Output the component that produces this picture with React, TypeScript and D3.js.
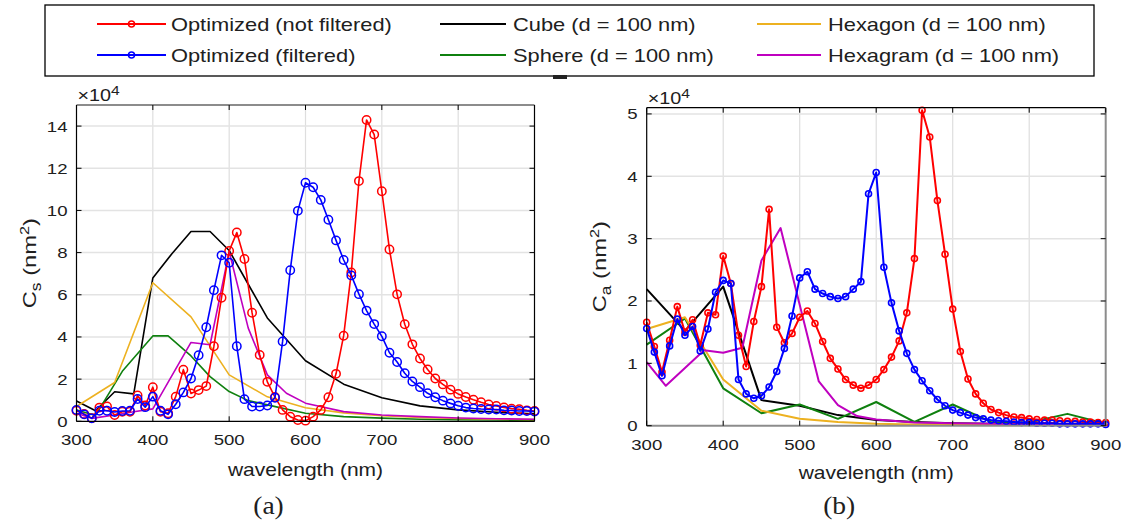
import React from "react";
import * as d3 from "d3";

// Wavelength grid (nm) of the optimized structures
const WAVELENGTH_FINE = d3.range(300, 901, 10);

// ---------- Scattering cross section Cs (x 1e4 nm^2) ----------
const CS_NOT_FILTERED = [
  0.5, 0.35, 0.15, 0.65, 0.7, 0.3, 0.45, 0.45, 1.22, 0.75,
  1.62, 0.45, 0.38, 1.17, 2.45, 1.32, 1.48, 1.67, 3.56, 5.86,
  8.08, 8.95, 7.7, 5.15, 3.15, 1.87, 1.15, 0.54, 0.22, 0.06,
  0.03, 0.22, 0.54, 1.14, 2.25, 4.06, 7.06, 11.39, 14.29, 13.6,
  10.91, 8.15, 6.02, 4.6, 3.65, 2.98, 2.46, 2.03, 1.75, 1.5,
  1.3, 1.15, 1.02, 0.9, 0.8, 0.73, 0.66, 0.6, 0.57, 0.52, 0.49,
];
const CS_FILTERED = [
  0.54, 0.33, 0.14, 0.5, 0.5, 0.44, 0.49, 0.5, 1.06, 0.67,
  1.17, 0.5, 0.33, 0.81, 1.37, 2.03, 3.13, 4.46, 6.22, 7.87,
  7.52, 3.56, 1.05, 0.7, 0.7, 0.75, 1.12, 3.79, 7.16, 9.98,
  11.31, 11.1, 10.5, 9.56, 8.58, 7.65, 6.92, 6.03, 5.25, 4.61,
  4.03, 3.25, 2.81, 2.28, 1.89, 1.62, 1.33, 1.14, 0.98, 0.85,
  0.74, 0.65, 0.61, 0.58, 0.56, 0.56, 0.52, 0.51, 0.49, 0.49, 0.46,
];
const CS_CUBE_WL = [300, 325, 350, 375, 400, 425, 450, 475, 500, 525, 550, 600, 650, 700, 750, 800, 850, 900];
const CS_CUBE = [0.96, 0.5, 1.4, 1.3, 6.8, 7.95, 9.0, 9.0, 8.1, 6.5, 4.9, 2.87, 1.76, 1.12, 0.73, 0.54, 0.43, 0.35];
const CS_SPHERE_WL = [300, 325, 360, 400, 420, 450, 475, 500, 525, 550, 600, 650, 700, 750, 800, 850, 900];
const CS_SPHERE = [0.54, 0.28, 2.37, 4.05, 4.05, 3.1, 2.12, 1.41, 0.98, 0.78, 0.38, 0.22, 0.15, 0.1, 0.08, 0.06, 0.05];
const CS_HEXAGON_WL = [300, 350, 400, 450, 500, 550, 600, 650, 700, 750, 800, 850, 900];
const CS_HEXAGON = [0.7, 1.84, 6.57, 4.95, 2.2, 1.16, 0.64, 0.4, 0.26, 0.18, 0.13, 0.1, 0.08];
const CS_HEXAGRAM_WL = [300, 320, 350, 375, 400, 450, 475, 500, 525, 550, 575, 600, 650, 700, 750, 800, 850, 900];
const CS_HEXAGRAM = [0.38, 0.14, 0.3, 0.45, 0.59, 3.74, 3.63, 8.05, 4.42, 2.2, 1.33, 0.86, 0.46, 0.3, 0.22, 0.16, 0.12, 0.1];

// ---------- Absorption cross section Ca (x 1e4 nm^2) ----------
const CA_NOT_FILTERED = [
  1.66, 1.27, 0.86, 1.37, 1.91, 1.5, 1.7, 1.29, 1.81, 1.78,
  2.72, 2.28, 1.45, 0.95, 1.67, 2.23, 3.47, 1.58, 1.33, 1.48,
  1.74, 1.84, 1.64, 1.35, 1.08, 0.91, 0.74, 0.65, 0.6, 0.65,
  0.74, 0.9, 1.1, 1.36, 1.81, 2.68, 5.06, 4.63, 3.61, 2.75,
  1.87, 1.19, 0.75, 0.51, 0.36, 0.26, 0.21, 0.17, 0.14, 0.13,
  0.11, 0.1, 0.09, 0.09, 0.08, 0.07, 0.07, 0.06, 0.06, 0.05, 0.05,
];
const CA_FILTERED = [
  1.56, 1.18, 0.8, 1.28, 1.71, 1.45, 1.59, 1.2, 1.55, 2.14,
  2.33, 2.28, 0.74, 0.51, 0.44, 0.48, 0.62, 0.87, 1.24, 1.76,
  2.37, 2.47, 2.19, 2.12, 2.07, 2.04, 2.07, 2.19, 2.31, 3.72,
  4.06, 2.54, 1.97, 1.52, 1.16, 0.9, 0.72, 0.56, 0.42, 0.32,
  0.25, 0.21, 0.17, 0.13, 0.11, 0.09, 0.08, 0.07, 0.06, 0.05,
  0.05, 0.04, 0.04, 0.04, 0.03, 0.03, 0.03, 0.03, 0.03, 0.03, 0.02,
];
const CA_SHAPE_WL = [300, 350, 400, 450, 500, 550, 600, 650, 700, 750, 800, 850, 900];
const CA_CUBE = [2.19, 1.52, 2.23, 0.41, 0.32, 0.17, 0.09, 0.06, 0.04, 0.03, 0.03, 0.02, 0.02];
const CA_SPHERE = [1.3, 1.72, 0.6, 0.2, 0.34, 0.11, 0.38, 0.06, 0.34, 0.06, 0.05, 0.19, 0.03];
const CA_HEXAGON = [1.55, 1.74, 0.74, 0.24, 0.11, 0.06, 0.03, 0.02, 0.02, 0.01, 0.01, 0.01, 0.01];
const CA_HEXAGRAM_WL = [300, 325, 375, 400, 425, 450, 475, 525, 550, 575, 600, 650, 700, 750, 800, 850, 900];
const CA_HEXAGRAM = [1.02, 0.64, 1.21, 1.17, 1.25, 2.65, 3.17, 0.71, 0.33, 0.155, 0.1, 0.05, 0.04, 0.03, 0.02, 0.02, 0.02];

const X_TICKS = [300, 400, 500, 600, 700, 800, 900];
const CS_TICKS = [0, 2, 4, 6, 8, 10, 12, 14];
const CA_TICKS = [0, 1, 2, 3, 4, 5];

const COLORS = {
  notFiltered: "#ff0000",
  filtered: "#0000ff",
  cube: "#000000",
  sphere: "#0f800f",
  hexagon: "#edb120",
  hexagram: "#bf00bf",
};

const SANS = "'Liberation Sans', Arial, Helvetica, sans-serif";
const SERIF = "'Liberation Serif', 'Times New Roman', serif";
const STRETCH = 1.2;

type Pt = [number, number];
const zipPts = (xs: number[], ys: number[]): Pt[] => xs.map((x, i) => [x, ys[i]]);

function Txt(props: {
  x: number; y: number; size: number; anchor?: string; rotate?: number;
  sx?: number; family?: string; children: React.ReactNode;
}) {
  const { x, y, size, anchor = "start", rotate = 0, sx = STRETCH, family = SANS, children } = props;
  return (
    <text
      transform={`translate(${x},${y}) rotate(${rotate}) scale(${sx},1)`}
      fontSize={size}
      fontFamily={family}
      textAnchor={anchor}
      fill="#202020"
    >
      {children}
    </text>
  );
}

interface Series {
  pts: Pt[];
  color: string;
  markers?: boolean;
}

function Panel(props: {
  left: number; right: number; top: number; bottom: number; yMax: number;
  yTicks: number[]; series: Series[]; lineW: number; markerR: number; markerW: number;
  sub: string; xLabelY: number; yLabelX: number; tickLabelDy: number;
  grayTop?: boolean; grayRightBottom?: boolean; caption: string; captionY: number;
}) {
  const p = props;
  const x = d3.scaleLinear().domain([300, 900]).range([p.left, p.right]);
  const y = d3.scaleLinear().domain([0, p.yMax]).range([p.bottom, p.top]);
  const line = d3.line<Pt>().x((d) => x(d[0])).y((d) => y(d[1]));
  const tickLen = 5;
  const cx = (p.left + p.right) / 2;
  const cy = (p.top + p.bottom) / 2;
  return (
    <g>
      {/* grid */}
      {X_TICKS.slice(1, -1).map((t) => (
        <line key={"gx" + t} x1={x(t)} x2={x(t)} y1={p.top} y2={p.bottom} stroke="#dedede" strokeWidth={1.2} />
      ))}
      {p.yTicks.slice(1).map((t) => (
        <line key={"gy" + t} x1={p.left} x2={p.right} y1={y(t)} y2={y(t)} stroke="#e3e3e3" strokeWidth={1.5} />
      ))}
      {/* data */}
      <g>
        {p.series.map((s, i) => (
          <g key={"s" + i}>
            <path d={line(s.pts) || ""} fill="none" stroke={s.color} strokeWidth={p.lineW} strokeLinejoin="round" />
            {s.markers &&
              s.pts.map((d, j) => (
                <circle key={j} cx={x(d[0])} cy={y(d[1])} r={p.markerR} fill="none" stroke={s.color} strokeWidth={p.markerW} />
              ))}
          </g>
        ))}
      </g>
      {/* box */}
      <line x1={p.left} x2={p.right} y1={p.top} y2={p.top} stroke={p.grayTop ? "#8c8c8c" : "#000"} strokeWidth={p.grayTop ? 2 : 1.2} />
      <line x1={p.left} x2={p.left} y1={p.top} y2={p.bottom} stroke="#000" strokeWidth={1.2} />
      <line x1={p.left} x2={p.right} y1={p.bottom} y2={p.bottom} stroke={p.grayRightBottom ? "#8c8c8c" : "#000"} strokeWidth={p.grayRightBottom ? 2 : 1.2} />
      <line x1={p.right} x2={p.right} y1={p.top} y2={p.bottom} stroke={p.grayRightBottom ? "#8c8c8c" : "#000"} strokeWidth={p.grayRightBottom ? 2 : 1.2} />
      {/* ticks */}
      {X_TICKS.map((t) => (
        <g key={"tx" + t}>
          <line x1={x(t)} x2={x(t)} y1={p.bottom} y2={p.bottom - tickLen} stroke="#000" strokeWidth={1} />
          <line x1={x(t)} x2={x(t)} y1={p.top} y2={p.top + tickLen} stroke="#000" strokeWidth={1} />
          <Txt x={x(t)} y={p.bottom + p.tickLabelDy} size={15.5} anchor="middle">{t}</Txt>
        </g>
      ))}
      {p.yTicks.map((t) => (
        <g key={"ty" + t}>
          <line x1={p.left} x2={p.left + tickLen} y1={y(t)} y2={y(t)} stroke="#000" strokeWidth={1} />
          <line x1={p.right} x2={p.right - tickLen} y1={y(t)} y2={y(t)} stroke="#000" strokeWidth={1} />
          <Txt x={p.left - 9} y={y(t) + 5.5} size={15.5} anchor="end">{t}</Txt>
        </g>
      ))}
      {/* exponent */}
      <Txt x={p.left + 1} y={p.top - 4} size={16.5}>
        ×10<tspan dy={-6} fontSize={13}>4</tspan>
      </Txt>
      {/* axis labels */}
      <Txt x={cx} y={p.xLabelY} size={17.5} anchor="middle">wavelength (nm)</Txt>
      <Txt x={p.yLabelX} y={cy} size={19} anchor="middle" rotate={-90} sx={1.25}>
        C<tspan dy={5} fontSize={14}>{p.sub}</tspan>
        <tspan dy={-5}> (nm</tspan>
        <tspan dy={-7} fontSize={13}>2</tspan>
        <tspan dy={7}>)</tspan>
      </Txt>
      <Txt x={cx - 37} y={p.captionY} size={25} anchor="middle" family={SERIF} sx={1.1}>{p.caption}</Txt>
    </g>
  );
}

function Legend() {
  const rows = [24, 55];
  const cols = [
    { x1: 97, x2: 166, tx: 171 },
    { x1: 440, x2: 506, tx: 513 },
    { x1: 757, x2: 821, tx: 828 },
  ];
  const items = [
    { label: "Optimized (not filtered)", color: COLORS.notFiltered, col: 0, row: 0, marker: true },
    { label: "Optimized (filtered)", color: COLORS.filtered, col: 0, row: 1, marker: true },
    { label: "Cube (d = 100 nm)", color: COLORS.cube, col: 1, row: 0, marker: false },
    { label: "Sphere (d = 100 nm)", color: COLORS.sphere, col: 1, row: 1, marker: false },
    { label: "Hexagon (d = 100 nm)", color: COLORS.hexagon, col: 2, row: 0, marker: false },
    { label: "Hexagram (d = 100 nm)", color: COLORS.hexagram, col: 2, row: 1, marker: false },
  ];
  return (
    <g>
      <rect x={45} y={5} width={1049} height={71} fill="#fff" stroke="#000" strokeWidth={1.3} />
      {items.map((it) => {
        const c = cols[it.col];
        const yy = rows[it.row];
        return (
          <g key={it.label}>
            <line x1={c.x1} x2={c.x2} y1={yy} y2={yy} stroke={it.color} strokeWidth={2} />
            {it.marker && <circle cx={(c.x1 + c.x2) / 2} cy={yy} r={3} fill="none" stroke={it.color} strokeWidth={1.5} />}
            <Txt x={c.tx} y={yy + 6.5} size={18.2}>{it.label}</Txt>
          </g>
        );
      })}
      <rect x={553} y={75} width={14} height={4} fill="#222" />
    </g>
  );
}

export default function App() {
  const leftSeries: Series[] = [
    { pts: zipPts(CS_CUBE_WL, CS_CUBE), color: COLORS.cube },
    { pts: zipPts(CS_SPHERE_WL, CS_SPHERE), color: COLORS.sphere },
    { pts: zipPts(CS_HEXAGON_WL, CS_HEXAGON), color: COLORS.hexagon },
    { pts: zipPts(CS_HEXAGRAM_WL, CS_HEXAGRAM), color: COLORS.hexagram },
    { pts: zipPts(WAVELENGTH_FINE, CS_NOT_FILTERED), color: COLORS.notFiltered, markers: true },
    { pts: zipPts(WAVELENGTH_FINE, CS_FILTERED), color: COLORS.filtered, markers: true },
  ];
  const rightSeries: Series[] = [
    { pts: zipPts(CA_SHAPE_WL, CA_CUBE), color: COLORS.cube },
    { pts: zipPts(CA_SHAPE_WL, CA_SPHERE), color: COLORS.sphere },
    { pts: zipPts(CA_SHAPE_WL, CA_HEXAGON), color: COLORS.hexagon },
    { pts: zipPts(CA_HEXAGRAM_WL, CA_HEXAGRAM), color: COLORS.hexagram },
    { pts: zipPts(WAVELENGTH_FINE, CA_NOT_FILTERED), color: COLORS.notFiltered, markers: true },
    { pts: zipPts(WAVELENGTH_FINE, CA_FILTERED), color: COLORS.filtered, markers: true },
  ];
  return (
    <svg
      width={1128}
      height={523}
      viewBox="0 0 1128 523"
      style={{ position: "absolute", left: 0, top: 0, background: "#fff", display: "block" }}
    >
      <rect width={1128} height={523} fill="#fff" />
      <Panel
        left={76.5} right={534.5} top={105} bottom={421.3} yMax={15} yTicks={CS_TICKS}
        series={leftSeries} lineW={1.6} markerR={4.2} markerW={1.5}
        sub="s" xLabelY={476} yLabelX={36} tickLabelDy={24} grayTop caption="(a)" captionY={514}
      />
      <Panel
        left={646.7} right={1105.7} top={107.7} bottom={425.7} yMax={5.1} yTicks={CA_TICKS}
        series={rightSeries} lineW={2} markerR={3} markerW={1.6}
        sub="a" xLabelY={479} yLabelX={606} tickLabelDy={24} grayRightBottom caption="(b)" captionY={514}
      />
      <Legend />
    </svg>
  );
}
